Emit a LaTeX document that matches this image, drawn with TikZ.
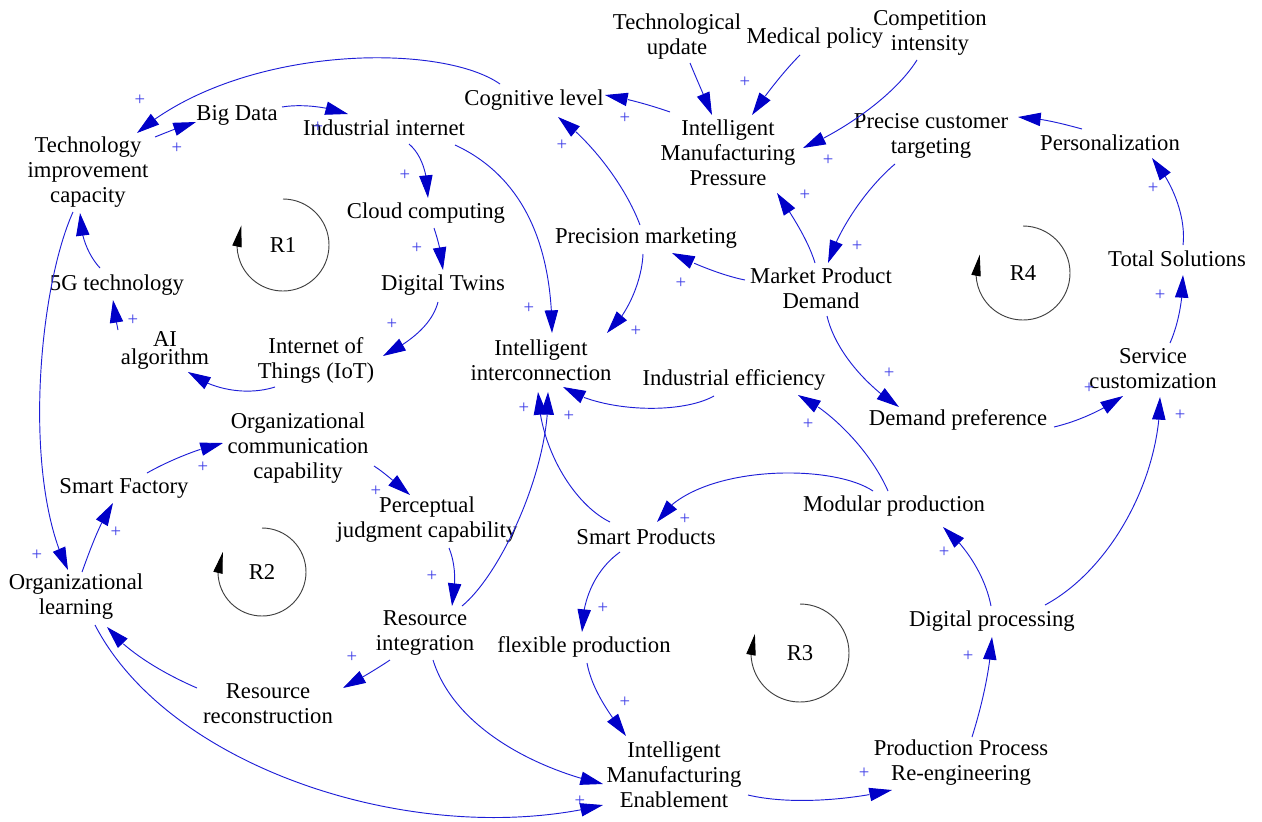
\documentclass[tikz,border=0pt]{standalone}
\usepackage{fontspec}
\setmainfont{Liberation Serif}
\newfontfamily\diagfont{Liberation Serif}
\usetikzlibrary{arrows.meta,bending}
\definecolor{linkblue}{RGB}{30,30,215}
\definecolor{tipblue}{RGB}{0,0,200}
\definecolor{plusblue}{RGB}{60,60,230}
\begin{document}
\begin{tikzpicture}[x=0.75pt,y=-0.75pt,
  var/.style={font=\diagfont\fontsize{17}{18.75}\selectfont, align=center, inner sep=1pt},
  link/.style={draw=linkblue, line width=0.7pt, -{Triangle[length=17pt,width=10pt,color=tipblue]}},
  plus/.style={text=plusblue, font=\diagfont\fontsize{14}{14}\selectfont, inner sep=0pt},
  loopc/.style={draw=black!75, line width=0.7pt, -{Triangle[length=16pt,width=7pt,color=black]}}]
\useasboundingbox (0,0) rectangle (1262,821);
% variables
\node[var] (tu) at (677,37) {Technological\\update};
\node[var] (mp) at (815,38) {Medical policy};
\node[var] (ci) at (930,33) {Competition\\intensity};
\node[var] (cog) at (534,100) {Cognitive level};
\node[var] (imp) at (728,153) {Intelligent\\Manufacturing\\Pressure};
\node[var] (bd) at (237,115) {Big Data};
\node[var] (ii) at (384,128) {Industrial internet};
\node[var] (tic) at (88,172) {Technology\\improvement\\capacity};
\node[var] (pct) at (931,136) {Precise customer\\targeting};
\node[var] (pers) at (1110,143) {Personalization};
\node[var] (cc) at (426,213) {Cloud computing};
\node[var] (pm) at (646,238) {Precision marketing};
\node[var] (mpd) at (821,288) {Market Product\\Demand};
\node[var] (ts) at (1177,259) {Total Solutions};
\node[var] (fiveg) at (117,285) {5G technology};
\node[var] (dt) at (443,285) {Digital Twins};
\node[var, font=\diagfont\fontsize{17}{13.5}\selectfont] (ai) at (165,350) {AI\\algorithm};
\node[var] (iot) at (316,360) {Internet of\\Things (IoT)};
\node[var] (iic) at (541,360) {Intelligent\\interconnection};
\node[var] (ie) at (734,380) {Industrial efficiency};
\node[var] (sc) at (1153,369) {Service\\customization};
\node[var] (dpref) at (958,420) {Demand preference};
\node[var] (occ) at (298,448) {Organizational\\communication\\capability};
\node[var] (sf) at (124,488) {Smart Factory};
\node[var] (pjc) at (427,520) {Perceptual\\judgment capability};
\node[var] (mod) at (894,506) {Modular production};
\node[var] (sp) at (646,537) {Smart Products};
\node[var] (ol) at (76,597) {Organizational\\learning};
\node[var] (ri) at (425,633) {Resource\\integration};
\node[var] (dpr) at (992,621) {Digital processing};
\node[var] (fp) at (584,647) {flexible production};
\node[var] (rr) at (268,704) {Resource\\reconstruction};
\node[var] (ime) at (674,775) {Intelligent\\Manufacturing\\Enablement};
\node[var] (ppr) at (961,763) {Production Process\\Re-engineering};
% loops
\node[var] (r1) at (283,245) {R1};
\node[var] (r2) at (262,572) {R2};
\node[var] (r3) at (800,653) {R3};
\node[var] (r4) at (1023,273) {R4};
\draw[loopc] ([shift={(0pt,34.5pt)}]r1.center) arc[start angle=90, end angle=-205, radius=34.5pt];
\draw[loopc] ([shift={(0pt,33pt)}]r2.center) arc[start angle=90, end angle=-207, radius=33pt];
\draw[loopc] ([shift={(0pt,36.75pt)}]r3.center) arc[start angle=90, end angle=-203, radius=36.75pt];
\draw[loopc] ([shift={(0pt,35.25pt)}]r4.center) arc[start angle=90, end angle=-203, radius=35.25pt];
% links
\draw[link] ([shift={(-34,-16)}]cog.center) .. controls (440,42) and (240,45) .. ([shift={(49,-39)}]tic.center);
\draw[link] ([shift={(67,-35)}]tic.center) .. controls (170,131) and (182,126) .. ([shift={(-41,7)}]bd.center);
\draw[link] ([shift={(45,-8)}]bd.center) .. controls (300,104) and (325,106) .. ([shift={(-36,-14)}]ii.center);
\draw[link] ([shift={(25,16)}]ii.center) .. controls (422,155) and (428,175) .. ([shift={(2,-15)}]cc.center);
\draw[link] ([shift={(8,15)}]cc.center) .. controls (438,240) and (442,255) .. ([shift={(0,-15)}]dt.center);
\draw[link] ([shift={(-5,17)}]dt.center) .. controls (432,325) and (410,342) .. ([shift={(67,-4)}]iot.center);
\draw[link] ([shift={(-41,27)}]iot.center) .. controls (250,395) and (215,392) .. ([shift={(23,22)}]ai.center);
\draw[link] ([shift={(-47,-20)}]ai.center) .. controls (116,320) and (114,310) .. ([shift={(-4,15)}]fiveg.center);
\draw[link] ([shift={(-17,-17)}]fiveg.center) .. controls (88,255) and (80,235) .. ([shift={(-8,41)}]tic.center);
\draw[link] ([shift={(-15,40)}]tic.center) .. controls (38,290) and (22,480) .. ([shift={(-8,-27)}]ol.center);
\draw[link] ([shift={(6,-25)}]ol.center) .. controls (90,550) and (100,522) .. ([shift={(-11,15)}]sf.center);
\draw[link] ([shift={(23,-15)}]sf.center) .. controls (170,460) and (200,448) .. ([shift={(-75,-5)}]occ.center);
\draw[link] ([shift={(76,18)}]occ.center) .. controls (385,473) and (398,485) .. ([shift={(-17,-25)}]pjc.center);
\draw[link] ([shift={(22,28)}]pjc.center) .. controls (456,565) and (456,585) .. ([shift={(27,-27)}]ri.center);
\draw[link] ([shift={(37,-27)}]ri.center) .. controls (500,575) and (550,470) .. ([shift={(7,32)}]iic.center);
\draw[link] ([shift={(-36,-15)}]sp.center) .. controls (575,505) and (540,450) .. ([shift={(-3,32)}]iic.center);
\draw[link] ([shift={(-20,16)}]ie.center) .. controls (680,415) and (600,412) .. ([shift={(22,27)}]iic.center);
\draw[link] ([shift={(71,17)}]ii.center) .. controls (520,175) and (552,240) .. ([shift={(11,-27)}]iic.center);
\draw[link] ([shift={(-3,16)}]pm.center) .. controls (642,280) and (628,315) .. ([shift={(66,-27)}]iic.center);
\draw[link] ([shift={(-6,-13)}]pm.center) .. controls (625,185) and (590,140) .. ([shift={(24,17)}]cog.center);
\draw[link] ([shift={(-76,-8)}]mpd.center) .. controls (720,275) and (690,262) .. ([shift={(26,15)}]pm.center);
\draw[link] ([shift={(-58,-41)}]imp.center) .. controls (650,105) and (625,98) .. ([shift={(71,-5)}]cog.center);
\draw[link] ([shift={(13,26)}]tu.center) .. controls (697,80) and (705,98) .. ([shift={(-16,-38)}]imp.center);
\draw[link] ([shift={(-15,17)}]mp.center) .. controls (785,70) and (765,95) .. ([shift={(24,-38)}]imp.center);
\draw[link] ([shift={(-13,27)}]ci.center) .. controls (895,95) and (845,130) .. ([shift={(75,-5)}]imp.center);
\draw[link] ([shift={(-6,-25)}]mpd.center) .. controls (808,240) and (792,215) .. ([shift={(49,40)}]imp.center);
\draw[link] ([shift={(-36,28)}]pct.center) .. controls (870,185) and (840,225) .. ([shift={(7,-25)}]mpd.center);
\draw[link] ([shift={(-28,-14)}]pers.center) .. controls (1060,123) and (1040,118) .. ([shift={(87,-19)}]pct.center);
\draw[link] ([shift={(6,-14)}]ts.center) .. controls (1186,220) and (1175,185) .. ([shift={(42,15)}]pers.center);
\draw[link] ([shift={(17,-26)}]sc.center) .. controls (1178,325) and (1183,300) .. ([shift={(6,16)}]ts.center);
\draw[link] ([shift={(6,28)}]mpd.center) .. controls (835,350) and (865,385) .. ([shift={(-59,-13)}]dpref.center);
\draw[link] ([shift={(96,7)}]dpref.center) .. controls (1075,422) and (1100,412) .. ([shift={(-30,27)}]sc.center);
\draw[link] ([shift={(53,-16)}]dpr.center) .. controls (1110,570) and (1160,480) .. ([shift={(7,28)}]sc.center);
\draw[link] ([shift={(-6,-15)}]mod.center) .. controls (870,450) and (830,410) .. ([shift={(64,15)}]ie.center);
\draw[link] ([shift={(-21,-15)}]mod.center) .. controls (830,462) and (690,465) .. ([shift={(11,-15)}]sp.center);
\draw[link] ([shift={(-26,15)}]sp.center) .. controls (595,570) and (582,600) .. ([shift={(-2,-15)}]fp.center);
\draw[link] ([shift={(3,16)}]fp.center) .. controls (592,690) and (610,715) .. ([shift={(-48,-39)}]ime.center);
\draw[link] ([shift={(8,27)}]ri.center) .. controls (455,730) and (540,770) .. ([shift={(-71,9)}]ime.center);
\draw[link] ([shift={(19,28)}]ol.center) .. controls (170,770) and (420,850) .. ([shift={(-71,30)}]ime.center);
\draw[link] ([shift={(-71,-16)}]rr.center) .. controls (160,672) and (125,650) .. ([shift={(31,30)}]ol.center);
\draw[link] ([shift={(-35,27)}]ri.center) .. controls (375,670) and (358,680) .. ([shift={(75,-16)}]rr.center);
\draw[link] ([shift={(74,20)}]ime.center) .. controls (790,805) and (850,800) .. ([shift={(-69,27)}]ppr.center);
\draw[link] ([shift={(11,-26)}]ppr.center) .. controls (982,705) and (990,670) .. ([shift={(0,16)}]dpr.center);
\draw[link] ([shift={(-1,-15)}]dpr.center) .. controls (985,575) and (965,545) .. ([shift={(49,21)}]mod.center);
% polarity signs
\node[plus] (p1) at (140,100) {+};
\node[plus] (p2) at (177,148) {+};
\node[plus] (p3) at (318,127) {+};
\node[plus] (p4) at (405,175) {+};
\node[plus] (p5) at (417,248) {+};
\node[plus] (p6) at (392,324) {+};
\node[plus] (p7) at (133,320) {+};
\node[plus] (p8) at (37,555) {+};
\node[plus] (p9) at (116,532) {+};
\node[plus] (p10) at (203,467) {+};
\node[plus] (p11) at (376,491) {+};
\node[plus] (p12) at (432,576) {+};
\node[plus] (p13) at (352,657) {+};
\node[plus] (p14) at (529,308) {+};
\node[plus] (p15) at (636,331) {+};
\node[plus] (p16) at (524,408) {+};
\node[plus] (p17) at (569,416) {+};
\node[plus] (p18) at (562,145) {+};
\node[plus] (p19) at (625,118) {+};
\node[plus] (p20) at (745,82) {+};
\node[plus] (p21) at (828,160) {+};
\node[plus] (p22) at (805,195) {+};
\node[plus] (p23) at (681,283) {+};
\node[plus] (p24) at (857,246) {+};
\node[plus] (p25) at (1153,188) {+};
\node[plus] (p26) at (1160,295) {+};
\node[plus] (p27) at (889,373) {+};
\node[plus] (p28) at (1089,388) {+};
\node[plus] (p29) at (1180,415) {+};
\node[plus] (p30) at (808,424) {+};
\node[plus] (p31) at (685,519) {+};
\node[plus] (p32) at (944,552) {+};
\node[plus] (p33) at (603,608) {+};
\node[plus] (p34) at (625,702) {+};
\node[plus] (p35) at (580,801) {+};
\node[plus] (p36) at (968,656) {+};
\node[plus] (p37) at (864,773) {+};
\end{tikzpicture}
\end{document}
